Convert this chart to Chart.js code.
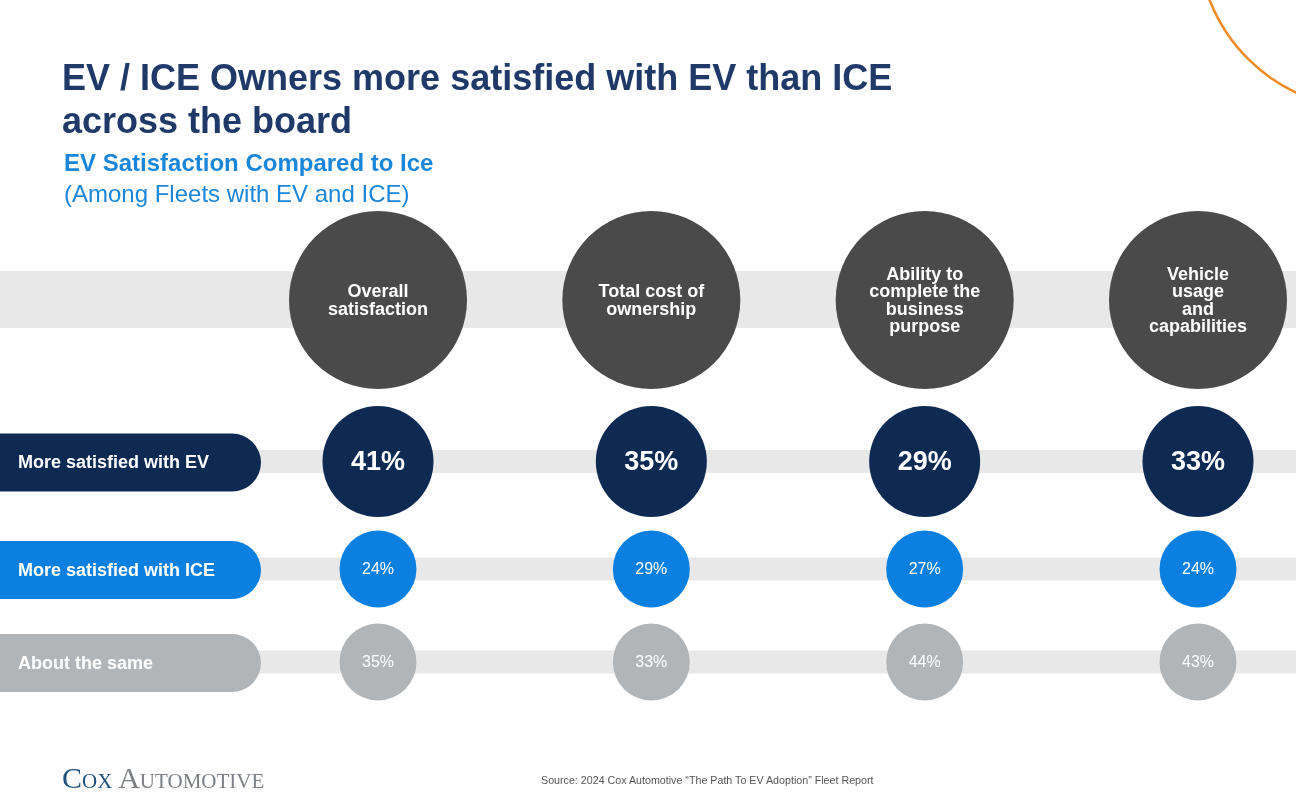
<!DOCTYPE html>
<html>
<head>
<meta charset="utf-8">
<script src="https://cdn.jsdelivr.net/npm/chart.js@4.4.1/dist/chart.umd.min.js"></script>
<style>
body { margin: 0; background: #fff; font-family: "Liberation Sans", Arial, sans-serif; }
#wrap { position: relative; width: 1296px; height: 812px; overflow: hidden; }
#chart { position: absolute; left: 0; top: 0; }
.title { position: absolute; left: 62px; top: 55.5px; font-size: 36px; line-height: 43px; font-weight: bold; color: #1f3a68; white-space: nowrap; }
.sub { position: absolute; left: 64px; top: 147px; font-size: 24px; line-height: 31px; color: #1a86d9; white-space: nowrap; }
.sub b { font-weight: bold; }
.logo { position: absolute; left: 62px; top: 762.5px; font-family: "Liberation Serif", serif; font-size: 30px; line-height: 30px; font-variant: small-caps; color: #7b7f84; white-space: nowrap; }
.logo span { color: #1f527f; }
.src { position: absolute; left: 541px; top: 773.5px; font-size: 10.7px; line-height: 12px; color: #555; white-space: nowrap; }
</style>
</head>
<body>
<div id="wrap">
<canvas id="chart" width="1296" height="812"></canvas>
<div class="title">EV / ICE Owners more satisfied with EV than ICE<br>across the board</div>
<div class="sub"><b>EV Satisfaction Compared to Ice</b><br>(Among Fleets with EV and ICE)</div>
<div class="logo"><span>Cox</span> Automotive</div>
<div class="src">Source: 2024 Cox Automotive “The Path To EV Adoption” Fleet Report</div>
</div>
<script>
// categories (header circles), one line per row of text
const categories = [
  ['Overall', 'satisfaction'],
  ['Total cost of', 'ownership'],
  ['Ability to', 'complete the', 'business', 'purpose'],
  ['Vehicle', 'usage', 'and', 'capabilities']
];
const rowLabels = ['More satisfied with EV', 'More satisfied with ICE', 'About the same'];
const evValues = [41, 35, 29, 33];
const iceValues = [24, 29, 27, 24];
const sameValues = [35, 33, 44, 43];

// layout
const rowY = [300, 461.5, 569, 662];
const rowR = [89, 55.5, 38.5, 38.5];
const rowColors = ['#4a4a4a', '#0e2a52', '#0c80e0', '#b2b5b8'];
const FONT = '"Liberation Sans", Arial, sans-serif';

function points(row) {
  return categories.map((c, i) => ({ x: i, y: rowY[row], r: rowR[row] }));
}

const backdrop = {
  id: 'backdrop',
  beforeDatasetsDraw(chart) {
    const c = chart.ctx;
    c.save();
    c.fillStyle = '#e8e8e8';
    c.fillRect(0, 271, 1296, 57);
    for (let i = 1; i < 4; i++) c.fillRect(0, rowY[i] - 11.5, 1296, 23);
    // row label pills
    rowLabels.forEach((lab, i) => {
      const y = rowY[i + 1] + 1;
      c.fillStyle = rowColors[i + 1];
      c.beginPath();
      c.roundRect(-40, y - 29, 301, 58, 29);
      c.fill();
      c.fillStyle = '#fff';
      c.font = 'bold 18px ' + FONT;
      c.textBaseline = 'middle';
      c.fillText(lab, 18, y + 1);
    });
    // orange arc top right
    c.strokeStyle = '#f08a24';
    c.lineWidth = 2.5;
    c.beginPath();
    c.arc(1369, -62, 171, 0, Math.PI * 2);
    c.stroke();
    c.restore();
  }
};

const labels = {
  id: 'labels',
  afterDatasetsDraw(chart) {
    const c = chart.ctx;
    c.save();
    c.fillStyle = '#fff';
    c.textAlign = 'center';
    c.textBaseline = 'middle';
    chart.data.datasets.forEach((ds, di) => {
      chart.getDatasetMeta(di).data.forEach((el, i) => {
        if (di === 0) {
          const lines = categories[i];
          c.font = 'bold 18px ' + FONT;
          const lh = 17.5;
          lines.forEach((t, k) => c.fillText(t, el.x, el.y + 1 + (k - (lines.length - 1) / 2) * lh));
        } else {
          c.font = (di === 1 ? 'bold 27px ' : '16px ') + FONT;
          c.fillText(ds.values[i] + '%', el.x, el.y + 1);
        }
      });
    });
    c.restore();
  }
};

// bubble charts pad the chart area by the largest radius
const P = Math.max(...rowR);
const unit = (1198 - 378) / 3;
new Chart(document.getElementById('chart'), {
  type: 'bubble',
  data: {
    datasets: [
      { label: 'Category', data: points(0), values: [], backgroundColor: rowColors[0] },
      { label: rowLabels[0], data: points(1), values: evValues, backgroundColor: rowColors[1] },
      { label: rowLabels[1], data: points(2), values: iceValues, backgroundColor: rowColors[2] },
      { label: rowLabels[2], data: points(3), values: sameValues, backgroundColor: rowColors[3] }
    ].map(d => Object.assign(d, { borderWidth: 0, clip: false }))
  },
  options: {
    responsive: false,
    animation: false,
    events: [],
    layout: { padding: 0 },
    plugins: { legend: { display: false }, tooltip: { enabled: false } },
    scales: {
      x: { type: 'linear', display: false, min: -(378 - P) / unit, max: (1296 - P - 378) / unit },
      y: { type: 'linear', display: false, reverse: true, min: P, max: 812 - P }
    }
  },
  plugins: [backdrop, labels]
});
</script>
</body>
</html>
